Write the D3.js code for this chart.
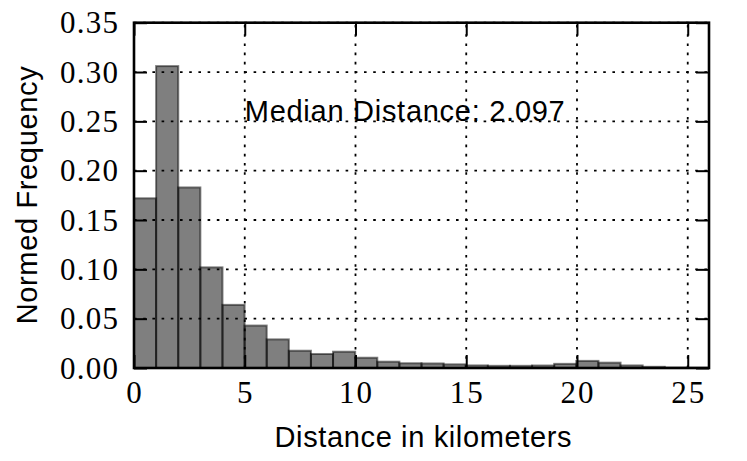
<!DOCTYPE html>
<html>
<head>
<meta charset="utf-8">
<script src="https://cdn.jsdelivr.net/npm/d3@7"></script>
<style>
  html, body { margin: 0; padding: 0; background: #fff; }
  svg { display: block; }
</style>
</head>
<body>
<div id="chart"></div>
<script>
// ---- data ----
const binCount = 26;
const dataMax = 25.96;
const frequencies = [
  0.172, 0.306, 0.183, 0.102, 0.064, 0.043, 0.029, 0.0175, 0.0142, 0.0165,
  0.0104, 0.0064, 0.0048, 0.0046, 0.0037, 0.0026, 0.0022, 0.0022, 0.0025, 0.0042,
  0.0072, 0.0054, 0.0026, 0.0012, 0.0004, 0.0003
];
const xTicks = [0, 5, 10, 15, 20, 25];
const yTicks = [0.00, 0.05, 0.10, 0.15, 0.20, 0.25, 0.30, 0.35];
const xLabel = "Distance in kilometers";
const yLabel = "Normed Frequency";
const medianText = "Median Distance: 2.097";
const medianPos = [5, 0.25];

// ---- layout ----
const W = 747, H = 461;
const mLeft = 134, mRight = 709, mTop = 22.7, mBottom = 368;

const svg = d3.select("#chart").append("svg").attr("width", W).attr("height", H);

const x = d3.scaleLinear().domain([0, dataMax]).range([mLeft, mRight]);
const y = d3.scaleLinear().domain([0, 0.35]).range([mBottom, mTop]);

const binW = dataMax / binCount;
const bins = frequencies.map((v, i) => ({ x0: i * binW, x1: (i + 1) * binW, v }));

// bars
svg.append("g").selectAll("rect").data(bins).join("rect")
  .attr("x", d => x(d.x0))
  .attr("width", d => x(d.x1) - x(d.x0))
  .attr("y", d => y(d.v))
  .attr("height", d => y(0) - y(d.v))
  .attr("fill", "#000").attr("fill-opacity", 0.5)
  .attr("stroke", "#000").attr("stroke-opacity", 0.5).attr("stroke-width", 2);

// grid
const grid = svg.append("g").attr("stroke", "#000").attr("stroke-width", 1.8)
  .attr("stroke-dasharray", "2.6,6.6").attr("fill", "none");
grid.selectAll("line.v").data(xTicks).join("line").attr("class", "v")
  .attr("x1", d => x(d)).attr("x2", d => x(d)).attr("y1", mBottom).attr("y2", mTop);
grid.selectAll("line.h").data(yTicks).join("line").attr("class", "h")
  .attr("y1", d => y(d)).attr("y2", d => y(d)).attr("x1", mLeft).attr("x2", mRight);

// axes (inside ticks on all sides)
const tickLen = 13;
const axB = d3.axisBottom(x).tickValues(xTicks).tickSize(-tickLen).tickFormat("");
const axT = d3.axisTop(x).tickValues(xTicks).tickSize(-tickLen).tickFormat("");
const axL = d3.axisLeft(y).tickValues(yTicks).tickSize(-tickLen).tickFormat("");
const axR = d3.axisRight(y).tickValues(yTicks).tickSize(-tickLen).tickFormat("");
function styleAxis(g) {
  g.select(".domain").remove();
  g.selectAll(".tick line").attr("stroke", "#000").attr("stroke-width", 2);
}
svg.append("g").attr("transform", `translate(0,${mBottom})`).call(axB).call(styleAxis);
svg.append("g").attr("transform", `translate(0,${mTop})`).call(axT).call(styleAxis);
svg.append("g").attr("transform", `translate(${mLeft},0)`).call(axL).call(styleAxis);
svg.append("g").attr("transform", `translate(${mRight},0)`).call(axR).call(styleAxis);

// frame
svg.append("rect").attr("x", mLeft).attr("y", mTop)
  .attr("width", mRight - mLeft).attr("height", mBottom - mTop)
  .attr("fill", "none").attr("stroke", "#000").attr("stroke-width", 2.6);

// tick labels
const serif = "'Liberation Serif', 'Times New Roman', serif";
svg.append("g").selectAll("text").data(xTicks).join("text")
  .attr("x", d => x(d)).attr("y", 403)
  .attr("text-anchor", "middle")
  .attr("font-family", serif).attr("font-size", 31)
  .each(function(d) { if (String(d).length > 1) d3.select(this).attr("textLength", 33).attr("lengthAdjust", "spacing"); })
  .text(d => d);
svg.append("g").selectAll("text").data(yTicks).join("text")
  .attr("x", 118).attr("y", d => y(d) + 10.5)
  .attr("text-anchor", "end")
  .attr("font-family", serif).attr("font-size", 31)
  .attr("textLength", 58).attr("lengthAdjust", "spacing")
  .text(d => d.toFixed(2));

// labels
const sans = "'Liberation Sans', Arial, Helvetica, sans-serif";
svg.append("text").attr("x", 423).attr("y", 447).attr("text-anchor", "middle")
  .attr("font-family", sans).attr("font-size", 29)
  .attr("textLength", 297).attr("lengthAdjust", "spacing")
  .text(xLabel);
svg.append("text").attr("transform", `translate(37,${(mTop + mBottom) / 2}) rotate(-90)`)
  .attr("text-anchor", "middle")
  .attr("font-family", sans).attr("font-size", 29)
  .attr("textLength", 258).attr("lengthAdjust", "spacing")
  .text(yLabel);

// annotation
svg.append("text").attr("x", x(medianPos[0])).attr("y", y(medianPos[1]))
  .attr("font-family", sans).attr("font-size", 29)
  .attr("textLength", 320).attr("lengthAdjust", "spacing")
  .text(medianText);
</script>
</body>
</html>
